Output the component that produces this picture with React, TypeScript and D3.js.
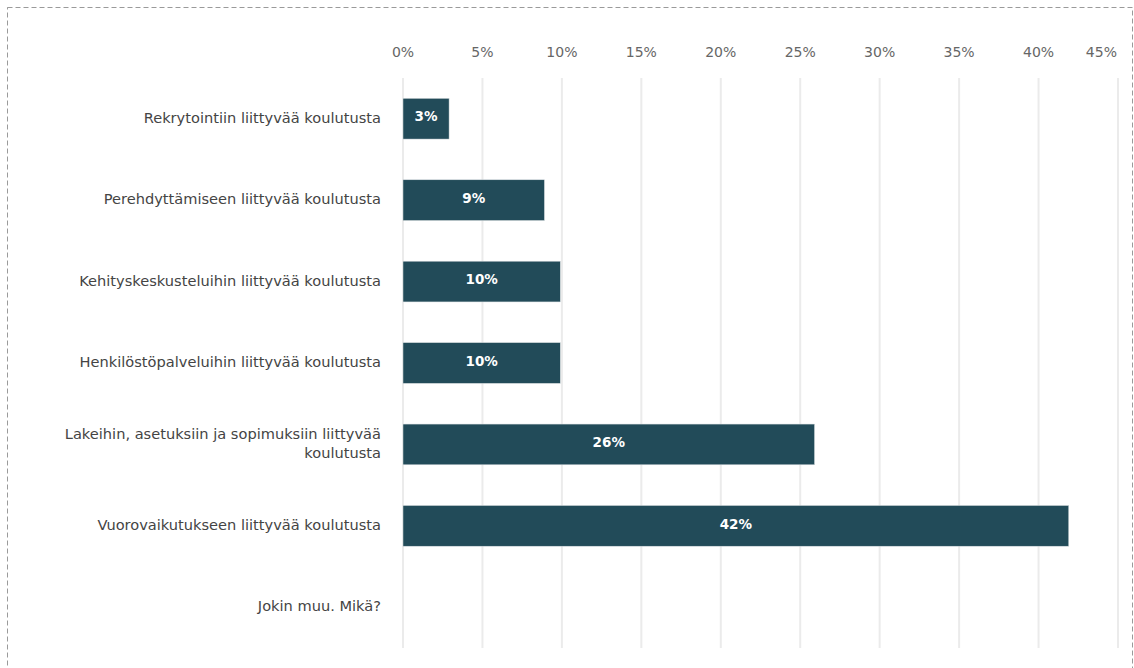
import React from "react";
import * as d3 from "d3";

const categories: string[][] = [
  ["Rekrytointiin liittyvää koulutusta"],
  ["Perehdyttämiseen liittyvää koulutusta"],
  ["Kehityskeskusteluihin liittyvää koulutusta"],
  ["Henkilöstöpalveluihin liittyvää koulutusta"],
  ["Lakeihin, asetuksiin ja sopimuksiin liittyvää", "koulutusta"],
  ["Vuorovaikutukseen liittyvää koulutusta"],
  ["Jokin muu. Mikä?"],
];
const values: (number | null)[] = [2.9, 8.9, 9.9, 9.9, 25.9, 41.9, null];
const ticks: number[] = [0, 5, 10, 15, 20, 25, 30, 35, 40, 45];

const W = 1134;
const H = 668;
const FONT = "'DejaVu Sans', Verdana, sans-serif";

export default function App() {
  const x = d3.scaleLinear().domain([0, 45]).range([403, 1118]);
  const y = d3
    .scaleBand<number>()
    .domain(categories.map((_, i) => i))
    .range([78, 648])
    .paddingInner(0.5)
    .paddingOuter(0.25);

  return (
    <div style={{ position: "absolute", left: 0, top: 0 }}>
      <svg width={W} height={H} style={{ display: "block", background: "#fff" }}>
        <rect x={7.5} y={7.5} width={1125} height={680} fill="none" stroke="#9a9a9a" strokeWidth={1} strokeDasharray="5,3" />
        {ticks.map((t, i) => {
          const last = i === ticks.length - 1;
          return (
            <g key={t}>
              <line x1={x(t)} x2={x(t)} y1={78} y2={648} stroke="#ebebeb" strokeWidth={2} />
              <text
                x={last ? x(t) - 1 : x(t)}
                y={57}
                textAnchor={last ? "end" : "middle"}
                fontFamily={FONT}
                fontSize={14}
                fill="#666"
              >
                {t}%
              </text>
            </g>
          );
        })}
        {categories.map((lines, i) => {
          const cy = (y(i) as number) + y.bandwidth() / 2;
          const lh = 19;
          const start = cy - ((lines.length - 1) * lh) / 2;
          return (
            <text key={i} textAnchor="end" fontFamily={FONT} fontSize={14.6} fill="#444">
              {lines.map((l, j) => (
                <tspan key={j} x={381} y={start + j * lh - 1} dy="0.35em">
                  {l}
                </tspan>
              ))}
            </text>
          );
        })}
        {values.map((v, i) => {
          if (v == null) return null;
          const by = y(i) as number;
          const bw = x(v) - x(0);
          return (
            <g key={i}>
              <rect x={x(0)} y={by} width={bw} height={y.bandwidth()} fill="#224b59" stroke="#d8dde0" strokeWidth={0.5} />
              <text
                x={x(0) + bw / 2}
                y={by + y.bandwidth() / 2 - 2}
                dy="0.35em"
                textAnchor="middle"
                fontFamily={FONT}
                fontSize={13.5}
                fontWeight="bold"
                fill="#fff"
              >
                {Math.round(v)}%
              </text>
            </g>
          );
        })}
      </svg>
    </div>
  );
}
